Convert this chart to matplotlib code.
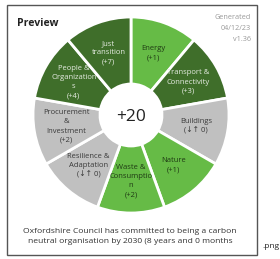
import matplotlib.pyplot as plt
from matplotlib.patches import Rectangle
import numpy as np

plt.rcParams['font.family'] = ['Open Sans', 'DejaVu Sans']

# themes, clockwise from the top
themes = ['Energy', 'Transport &\nConnectivity', 'Buildings', 'Nature',
          'Waste &\nConsumptio\nn', 'Resilience &\nAdaptation',
          'Procurement\n&\nInvestment', 'People &\nOrganization\ns',
          'Just\ntransition']
scores = ['(+1)', '(+3)', '(\u2193\u2191 0)', '(+1)', '(+2)', '(\u2193\u2191 0)',
          '(+2)', '(+4)', '(+7)']
levels = ['light', 'dark', 'grey', 'light', 'light', 'grey', 'grey', 'dark', 'dark']
total = '+20'
footer = ('Oxfordshire Council has committed to being a carbon\n'
          'neutral organisation by 2030 (8 years and 0 months')
generated = 'Generated\n04/12/23\nv1.36'

fill = {'dark': '#3f6e2a', 'light': '#66bb46', 'grey': '#c0c0c0'}
ink = {'dark': '#e6ece2', 'light': '#1f3a14', 'grey': '#3a3a3a'}

W, H = 280, 259
fig = plt.figure(figsize=(2.8, 2.59), dpi=100)
ax = fig.add_axes([0, 0, 1, 1])

cx, cy = 131, H - 115
R, r_in = 98, 31
wedges, _ = ax.pie([1] * len(themes), colors=[fill[l] for l in levels],
                   startangle=90, counterclock=False, radius=R, center=(cx, cy),
                   wedgeprops=dict(width=R - r_in, edgecolor='white', linewidth=2))

for w, name, sc, lv in zip(wedges, themes, scores, levels):
    a = np.deg2rad((w.theta1 + w.theta2) / 2)
    ax.text(cx + 66 * np.cos(a), cy + 66 * np.sin(a), name + '\n' + sc,
            ha='center', va='center', fontsize=5.5, color=ink[lv], linespacing=1.45)

ax.text(cx, cy - 2, total, ha='center', va='center', fontsize=12.5, color='#222222')

ax.add_patch(Rectangle((6.5, H - 255), 250, 250, fill=False, edgecolor='#555555', lw=1))
ax.text(17, H - 23, 'Preview', fontsize=7.6, fontweight='bold', va='center', color='#222222')
ax.text(251, H - 28.5, generated, ha='right', va='center', fontsize=5.2,
        color='#999999', linespacing=1.75)
ax.text(130, H - 236.5, footer, ha='center', va='center', fontsize=6.1,
        color='#333333', linespacing=1.65)
ax.text(262, H - 247, '.png', ha='left', va='center', fontsize=6, color='#222222')

ax.set_xlim(0, W)
ax.set_ylim(0, H)
ax.set_aspect('equal', adjustable='box')
ax.axis('off')

fig.savefig('out.png', dpi=100)
